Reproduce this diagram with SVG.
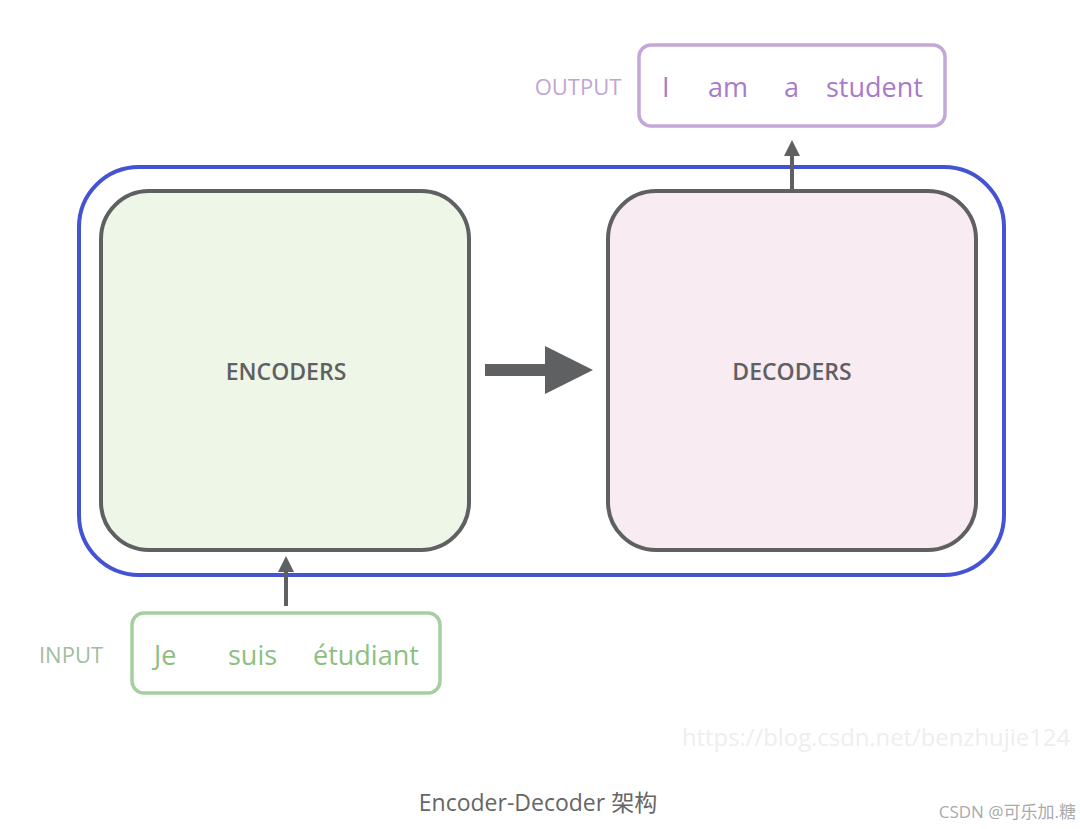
<svg xmlns="http://www.w3.org/2000/svg" width="1080" height="829" viewBox="0 0 1080 829">
<style>
text{font-family:"Open Sans","Noto Sans","Noto Sans CJK SC",sans-serif}
.blk{stroke:#5f6062;stroke-width:4}
.lbl{font-size:23px;font-weight:600;fill:#5f6062;text-anchor:middle}
.conn{stroke:#5f6062;stroke-width:4;fill:none}
</style>
<defs><marker id="ah" markerWidth="4" markerHeight="4" refX="2" refY="2" orient="auto" markerUnits="strokeWidth"><path d="M0,0 L4,2 L0,4 z" fill="#5f6062"/></marker></defs>
<rect width="1080" height="829" fill="#fff"/>
<g id="container"><rect x="79" y="167" width="925" height="408" rx="60" fill="none" stroke="#4452d4" stroke-width="4"/></g>
<g id="encoders"><rect x="101" y="191" width="368" height="359" rx="48" fill="#eef6e7" class="blk"/><text x="286" y="380" class="lbl">ENCODERS</text></g>
<g id="decoders"><rect x="608" y="191" width="368" height="359" rx="48" fill="#f8ebf1" class="blk"/><text x="792" y="380" class="lbl">DECODERS</text></g>
<g id="input"><rect x="132" y="613" width="308" height="80" rx="12" fill="none" stroke="#a6cf9f" stroke-width="3.5"/>
<text x="71" y="663" font-size="22" fill="#a2bda0" text-anchor="middle">INPUT</text>
<text y="665" font-size="27" fill="#8cc07f"><tspan x="154">Je</tspan><tspan x="228">suis</tspan><tspan x="313">étudiant</tspan></text></g>
<g id="output"><rect x="639" y="45" width="306" height="81" rx="12" fill="none" stroke="#c3a8d6" stroke-width="3.5"/>
<text x="578" y="95" font-size="22" fill="#c0a5d2" text-anchor="middle">OUTPUT</text>
<text y="97" font-size="27" fill="#a97ac9"><tspan x="662">I</tspan><tspan x="708">am</tspan><tspan x="784">a</tspan><tspan x="826">student</tspan></text></g>
<g id="connectors">
<line x1="286" y1="606" x2="286" y2="564" class="conn" marker-end="url(#ah)"/>
<line x1="792" y1="189" x2="792" y2="148" class="conn" marker-end="url(#ah)"/>
<path d="M485,364 H545 V346 L593,370 L545,394 V376 H485 Z" fill="#5f6062"/>
</g>
<text x="682" y="746" font-size="24" fill="#eeeeee" textLength="388" lengthAdjust="spacingAndGlyphs">https://blog.csdn.net/benzhujie124</text>
<text x="538" y="811" font-size="23" fill="#666" text-anchor="middle">Encoder-Decoder 架构</text>
<text x="1076" y="818" font-size="17" fill="#aaa" text-anchor="end">CSDN @可乐加.糖</text>
</svg>
